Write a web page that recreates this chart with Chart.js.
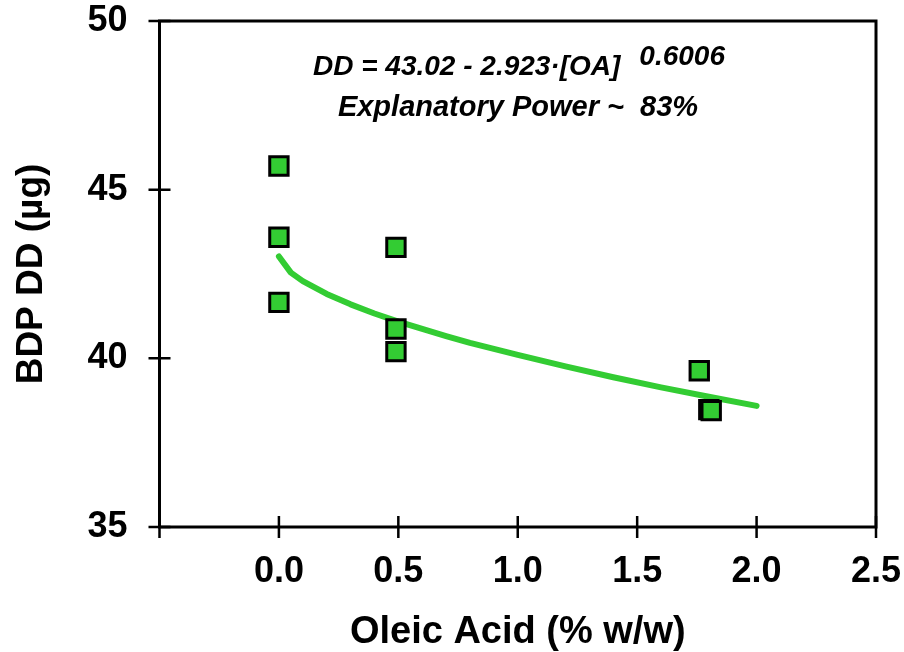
<!DOCTYPE html>
<html>
<head>
<meta charset="utf-8">
<script src="https://cdn.jsdelivr.net/npm/chart.js@4/dist/chart.umd.min.js"></script>
<style>
    html, body { margin: 0; padding: 0; background: #fff; }
    #wrap { width: 904px; height: 652px; }
</style>
</head>
<body>
<div id="wrap"><canvas id="chart"></canvas></div>
<script>
// measured points
const ptsX = [0, 0, 0, 0.49, 0.49, 0.49, 1.76, 1.80, 1.81];
const ptsY = [45.70, 43.59, 41.66, 43.29, 40.87, 40.20, 39.63, 38.48, 38.45];

// fitted curve as drawn
const fitX = [0, 0.05, 0.1, 0.2, 0.3, 0.4, 0.5, 0.6, 0.7, 0.8, 0.9, 1.0, 1.2, 1.4, 1.6, 1.8, 2.0];
const fitY = [43.02, 42.54, 42.29, 41.91, 41.60, 41.33, 41.09, 40.87, 40.66, 40.46, 40.28, 40.10, 39.76, 39.44, 39.14, 38.86, 38.59];

const xTickLabels = ['', '0.0', '0.5', '1.0', '1.5', '2.0', '2.5'];
const yTickLabels = ['35', '40', '45', '50'];

const FONT = "'Liberation Sans', Arial, sans-serif";
const green = '#33cc33';

const frame = {
    id: 'frame',
    afterDraw(chart) {
        const ctx = chart.ctx;
        const a = chart.chartArea;
        const xs = chart.scales.x, ys = chart.scales.y;
        ctx.save();
        ctx.strokeStyle = '#000';
        ctx.lineWidth = 3;
        ctx.strokeRect(a.left, a.top, a.right - a.left, a.bottom - a.top);
        ctx.lineWidth = 2.5;
        ctx.beginPath();
        xs.ticks.forEach(t => {
            const px = xs.getPixelForValue(t.value);
            ctx.moveTo(px, a.bottom - 11);
            ctx.lineTo(px, a.bottom + 11);
        });
        ys.ticks.forEach(t => {
            const py = ys.getPixelForValue(t.value);
            ctx.moveTo(a.left - 11, py);
            ctx.lineTo(a.left + 11, py);
        });
        ctx.stroke();

        // equation text
        ctx.fillStyle = '#000';
        ctx.textBaseline = 'alphabetic';
        ctx.textAlign = 'left';
        ctx.font = 'italic bold 28px ' + FONT;
        const main = 'DD = 43.02 - 2.923\u00b7[OA]';
        ctx.fillText(main, 313, 75);
        const w = ctx.measureText(main).width;
        ctx.fillText('0.6006', 313 + w + 19, 65);
        ctx.font = 'italic bold 29px ' + FONT;
        ctx.textAlign = 'center';
        ctx.fillText('Explanatory Power ~  83%', 518, 116);
        ctx.restore();
    }
};

new Chart(document.getElementById('chart'), {
    type: 'scatter',
    data: {
        datasets: [
            {
                label: 'data',
                data: ptsX.map((x, i) => ({ x: x, y: ptsY[i] })),
                pointStyle: 'rect',
                pointRadius: 13,
                pointHoverRadius: 13,
                backgroundColor: green,
                borderColor: '#000',
                borderWidth: 3
            },
            {
                label: 'fit',
                type: 'line',
                data: fitX.map((x, i) => ({ x: x, y: fitY[i] })),
                borderColor: green,
                borderWidth: 6,
                borderCapStyle: 'round',
                borderJoinStyle: 'round',
                pointRadius: 0,
                tension: 0,
                fill: false
            }
        ]
    },
    options: {
        responsive: true,
        maintainAspectRatio: false,
        animation: false,
        layout: { padding: { top: 21, right: 28, left: 0, bottom: 0 } },
        plugins: {
            legend: { display: false },
            tooltip: { enabled: false }
        },
        scales: {
            x: {
                type: 'linear',
                min: -0.5,
                max: 2.5,
                afterFit: s => {
                    s.height = 125;
                    s.paddingLeft = 0;
                    s.paddingRight = 0;
                },
                grid: { drawOnChartArea: false, drawTicks: false },
                border: { display: false },
                ticks: {
                    stepSize: 0.5,
                    padding: 23,
                    color: '#000',
                    font: { family: FONT, size: 36, weight: 'bold' },
                    callback: (v, i) => xTickLabels[i]
                },
                title: {
                    display: true,
                    text: 'Oleic Acid (% w/w)',
                    color: '#000',
                    font: { family: FONT, size: 38, weight: 'bold', lineHeight: 1.0 },
                    padding: { top: 0, bottom: 0 }
                }
            },
            y: {
                min: 35,
                max: 50,
                afterFit: s => {
                    s.width = 159.5;
                    s.paddingTop = 0;
                    s.paddingBottom = 0;
                },
                grid: { drawOnChartArea: false, drawTicks: false },
                border: { display: false },
                ticks: {
                    stepSize: 5,
                    padding: 32,
                    color: '#000',
                    font: { family: FONT, size: 36, weight: 'bold' },
                    callback: (v, i) => yTickLabels[i]
                },
                title: {
                    display: true,
                    text: 'BDP DD (\u00b5g)',
                    color: '#000',
                    font: { family: FONT, size: 37, weight: 'bold' },
                    padding: { top: 10, bottom: 0 }
                }
            }
        }
    },
    plugins: [frame]
});
</script>
</body>
</html>
